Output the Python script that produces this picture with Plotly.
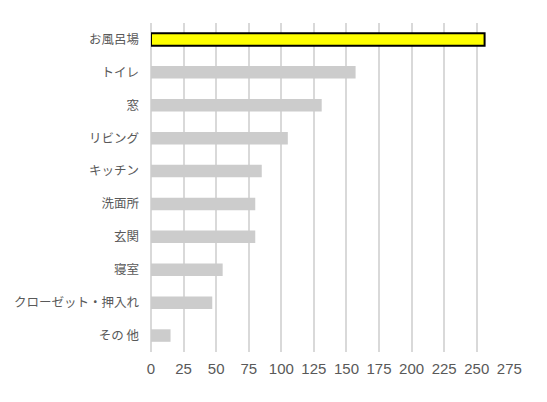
import plotly.graph_objects as go

categories = ["お風呂場", "トイレ", "窓", "リビング", "キッチン", "洗面所", "玄関", "寝室", "クローゼット・押入れ", "その 他"]
values = [256, 157, 131, 105, 85, 80, 80, 55, 47, 15]
tick_vals = [0, 25, 50, 75, 100, 125, 150, 175, 200, 225, 250, 275]

colors = ["#ffff00"] + ["#cccccc"] * (len(values) - 1)
line_colors = ["#000000"] + ["rgba(0,0,0,0)"] * (len(values) - 1)
line_widths = [2] + [0] * (len(values) - 1)

fig = go.Figure(go.Bar(
    x=values, y=categories, orientation="h",
    marker=dict(color=colors, line=dict(color=line_colors, width=line_widths)),
    width=0.38,
))

# the page body has an 8px margin, so margins compensate for it
fig.update_layout(
    width=547, height=402,
    margin=dict(l=143, r=45, t=15, b=58),
    paper_bgcolor="white", plot_bgcolor="white",
    showlegend=False,
    font=dict(family="Noto Sans CJK JP", size=13, color="#595959"),
)
fig.update_xaxes(
    range=[0, 275.5], tickvals=tick_vals, automargin=False,
    showgrid=True, gridcolor="#d9d9d9", gridwidth=2,
    zeroline=True, zerolinecolor="#d9d9d9", zerolinewidth=2, showline=False,
    tickfont=dict(family="Liberation Sans", size=15, color="#595959"),
    ticklabelstandoff=6,
)
fig.update_yaxes(
    autorange="reversed", showgrid=False, zeroline=False, showline=False, automargin=False,
    tickfont=dict(family="Noto Sans CJK JP", size=12.5, color="#595959"),
    ticklabelstandoff=11,
)

fig.write_html("out.html")
